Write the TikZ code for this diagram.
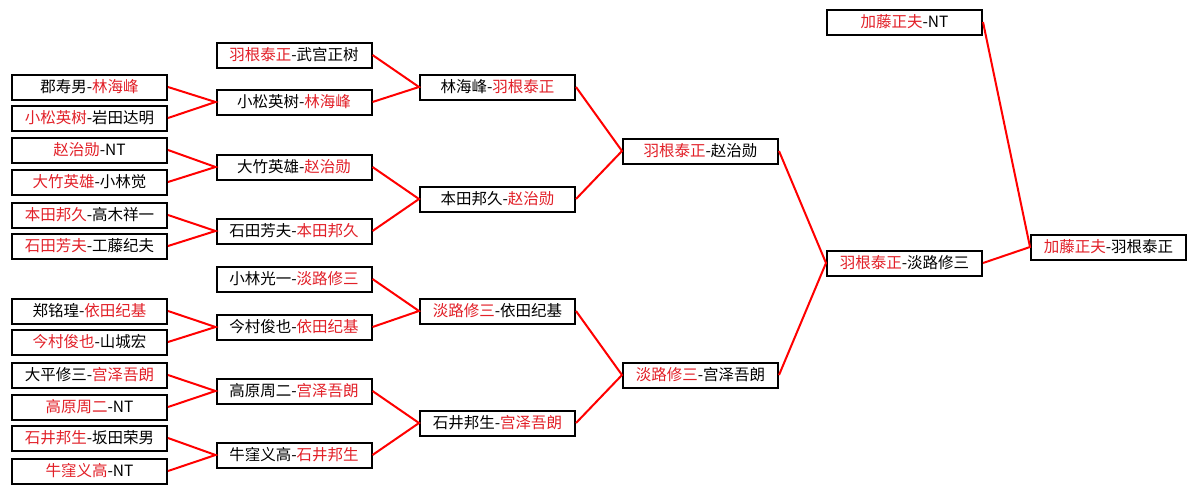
\documentclass[tikz,border=0pt]{standalone}
\usepackage{fontspec}
\setmainfont{Noto Sans CJK SC}
\usetikzlibrary{positioning}
\definecolor{winred}{RGB}{226,32,40}
\newcommand{\winner}[1]{\textcolor{winred}{#1}}

\begin{document}
\begin{tikzpicture}[x=1pt, y=-1pt,
    every node/.style={draw, line width=2pt, fill=white, minimum width=155pt, minimum height=25pt, inner sep=0pt, font=\fontsize{15.5}{17}\selectfont},
    link/.style={draw=red, line width=2pt}]
    \useasboundingbox (0,0) rectangle (1196,493);
    % first round
    \node (p1) at (89.5,87) {郡寿男-\winner{林海峰}};
    \node (p2) at (89.5,118) {\winner{小松英树}-岩田达明};
    \node (p3) at (89.5,150) {\winner{赵治勋}-NT};
    \node (p4) at (89.5,182) {\winner{大竹英雄}-小林觉};
    \node (p5) at (89.5,215) {\winner{本田邦久}-高木祥一};
    \node (p6) at (89.5,246) {\winner{石田芳夫}-工藤纪夫};
    \node (p7) at (89.5,311) {郑铭瑝-\winner{依田纪基}};
    \node (p8) at (89.5,342) {\winner{今村俊也}-山城宏};
    \node (p9) at (89.5,375) {大平修三-\winner{宫泽吾朗}};
    \node (p10) at (89.5,407) {\winner{高原周二}-NT};
    \node (p11) at (89.5,438) {\winner{石井邦生}-坂田荣男};
    \node (p12) at (89.5,471) {\winner{牛窪义高}-NT};
    % second round
    \node (q1) at (294,55) {\winner{羽根泰正}-武宫正树};
    \node (q2) at (294,102) {小松英树-\winner{林海峰}};
    \node (q3) at (294,167) {大竹英雄-\winner{赵治勋}};
    \node (q4) at (294,231) {石田芳夫-\winner{本田邦久}};
    \node (q5) at (294,279) {小林光一-\winner{淡路修三}};
    \node (q6) at (294,327) {今村俊也-\winner{依田纪基}};
    \node (q7) at (294,391) {高原周二-\winner{宫泽吾朗}};
    \node (q8) at (294,455) {牛窪义高-\winner{石井邦生}};
    % quarter finals
    \node (s1) at (497.5,87) {林海峰-\winner{羽根泰正}};
    \node (s2) at (497.5,199) {本田邦久-\winner{赵治勋}};
    \node (s3) at (497.5,311) {\winner{淡路修三}-依田纪基};
    \node (s4) at (497.5,423) {石井邦生-\winner{宫泽吾朗}};
    % semi finals
    \node (t1) at (700.5,151) {\winner{羽根泰正}-赵治勋};
    \node (t2) at (700.5,375) {\winner{淡路修三}-宫泽吾朗};
    % final
    \node (u1) at (904.5,22) {\winner{加藤正夫}-NT};
    \node (u2) at (904.5,263) {\winner{羽根泰正}-淡路修三};
    \node (champ) at (1108.5,247) {\winner{加藤正夫}-羽根泰正};

    \draw[link] (p1.east) -- (q2.west) -- (p2.east);
    \draw[link] (p3.east) -- (q3.west) -- (p4.east);
    \draw[link] (p5.east) -- (q4.west) -- (p6.east);
    \draw[link] (p7.east) -- (q6.west) -- (p8.east);
    \draw[link] (p9.east) -- (q7.west) -- (p10.east);
    \draw[link] (p11.east) -- (q8.west) -- (p12.east);
    \draw[link] (q1.east) -- (s1.west) -- (q2.east);
    \draw[link] (q3.east) -- (s2.west) -- (q4.east);
    \draw[link] (q5.east) -- (s3.west) -- (q6.east);
    \draw[link] (q7.east) -- (s4.west) -- (q8.east);
    \draw[link] (s1.east) -- (t1.west) -- (s2.east);
    \draw[link] (s3.east) -- (t2.west) -- (s4.east);
    \draw[link] (t1.east) -- (u2.west) -- (t2.east);
    \draw[link] (u1.east) -- (champ.west) -- (u2.east);
\end{tikzpicture}
\end{document}
